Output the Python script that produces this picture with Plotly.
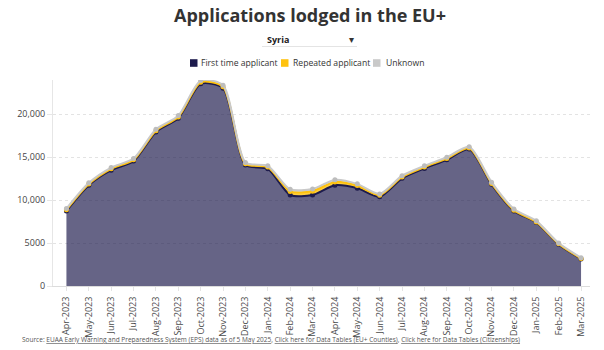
import plotly.graph_objects as go

# Monthly asylum applications lodged in the EU+ by Syrian nationals
months = ["Apr-2023", "May-2023", "Jun-2023", "Jul-2023", "Aug-2023", "Sep-2023",
          "Oct-2023", "Nov-2023", "Dec-2023", "Jan-2024", "Feb-2024", "Mar-2024",
          "Apr-2024", "May-2024", "Jun-2024", "Jul-2024", "Aug-2024", "Sep-2024",
          "Oct-2024", "Nov-2024", "Dec-2024", "Jan-2025", "Feb-2025", "Mar-2025"]

first_time = [8750, 11750, 13500, 14550, 17950, 19550, 23550, 23050, 14100, 13650, 10600, 10600,
              11750, 11400, 10400, 12550, 13700, 14700, 15950, 11850, 8750, 7400, 4850, 3150]
repeated = [120, 120, 150, 150, 150, 150, 180, 150, 150, 200, 420, 450,
            380, 300, 180, 150, 150, 150, 120, 100, 80, 70, 60, 50]
unknown = [150, 150, 150, 150, 150, 150, 200, 200, 150, 150, 250, 250,
           250, 200, 150, 150, 150, 150, 150, 150, 150, 120, 100, 100]

y_ticks = [0, 5000, 10000, 15000, 20000]
y_tick_labels = ["0", "5000", "10,000", "15,000", "20,000"]

W, H = 604, 350
L, R, T, B = 53, 14, 80, 64
PW, PH = W - L - R, H - T - B


def px(x):
    return (x - L) / PW


def py(y):
    return (H - B - y) / PH


FONT = "Open Sans"
idx = list(range(len(months)))

series = [
    ("First time applicant", first_time, "#1d1b4d", "rgba(29,27,77,0.68)", "#1d1b4d"),
    ("Repeated applicant", repeated, "#ffc20e", "rgba(255,194,14,0.8)", "#ffc20e"),
    ("Unknown", unknown, "#c9c9c9", "rgba(201,201,201,0.8)", "#bdbdbd"),
]

fig = go.Figure()
for name, vals, line_c, fill_c, mark_c in series:
    fig.add_trace(go.Scatter(
        x=idx, y=vals, name=name, stackgroup="apps",
        mode="lines+markers", showlegend=False,
        line=dict(color=line_c, width=2, shape="spline", smoothing=0.7),
        marker=dict(color=mark_c, size=5),
        fillcolor=fill_c,
        hovertemplate="%{text}: %{y:,}<extra>" + name + "</extra>",
        text=months,
    ))

# Legend row: colour swatch followed by the series name
legend_items = [
    ("First time applicant", "#1d1b4d", 190, 199),
    ("Repeated applicant", "#ffc20e", 281, 291),
    ("Unknown", "#c9c9c9", 373, 384),
]
LEG_Y = 63
for label, color, sx, tx in legend_items:
    fig.add_shape(type="rect", xref="paper", yref="paper",
                  x0=px(sx), x1=px(sx + 7.5), y0=py(LEG_Y + 3.8), y1=py(LEG_Y - 3.8),
                  fillcolor=color, line=dict(width=0))
    fig.add_annotation(text=label, x=px(tx), y=py(LEG_Y), xref="paper", yref="paper",
                       xanchor="left", yanchor="middle", showarrow=False,
                       font=dict(size=8.6, color="#333333", family=FONT))

fig.update_layout(
    width=W, height=H,
    margin=dict(l=L, r=R, t=T, b=B),
    paper_bgcolor="white", plot_bgcolor="white",
    font=dict(family=FONT, color="#333333"),
    showlegend=False,
    title=dict(text="<b>Applications lodged in the EU+</b>", x=310 / W, xanchor="center",
               xref="container", y=1 - 16 / H, yanchor="middle", yref="container",
               font=dict(size=18, color="#333333", family=FONT)),
    xaxis=dict(range=[-0.6, len(months) - 0.6], tickmode="array", tickvals=idx, ticktext=months,
               tickangle=-90, tickfont=dict(size=9, color="#4a4a4a"),
               showgrid=False, showline=True, linecolor="#dcdcdc", linewidth=1,
               ticks="outside", ticklen=4, tickcolor="#e4e4e4", ticklabelstandoff=2,
               zeroline=False, fixedrange=True),
    yaxis=dict(range=[0, 24000], tickmode="array", tickvals=y_ticks, ticktext=y_tick_labels,
               tickfont=dict(size=9, color="#444444"),
               showgrid=True, gridcolor="#e3e3e3", griddash="dot", gridwidth=1,
               showline=True, linecolor="#e6e6e6", linewidth=1,
               ticks="outside", ticklen=5, tickcolor="#e6e6e6", zeroline=False, fixedrange=True),
    hovermode="x unified",
)

# Country selector
fig.add_annotation(text="<b>Syria</b>", x=px(265), y=py(39), xref="paper", yref="paper",
                   xanchor="left", yanchor="middle", showarrow=False,
                   font=dict(size=9, color="#222222", family=FONT))
fig.add_annotation(text="▾", x=px(351), y=py(39), xref="paper", yref="paper",
                   xanchor="center", yanchor="middle", showarrow=False,
                   font=dict(size=10, color="#333333", family="DejaVu Sans"))
fig.add_shape(type="line", xref="paper", yref="paper", x0=px(262), x1=px(357),
              y0=py(46.5), y1=py(46.5), line=dict(color="#e4e4e4", width=1))

u = "text-decoration:underline"
source = ("Source: "
          f"<span style='{u}'>EUAA Early Warning and Preparedness System (EPS) data as of 5 May 2025</span>, "
          f"<span style='{u}'>Click here for Data Tables (EU+ Counties)</span>, "
          f"<span style='{u}'>Click here for Data Tables (Citizenships)</span>")
fig.add_annotation(text=source, x=px(20), y=py(339), xref="paper", yref="paper",
                   xanchor="left", yanchor="middle", showarrow=False,
                   font=dict(size=6.5, color="#555555", family=FONT))

fig.write_html("out.html")
